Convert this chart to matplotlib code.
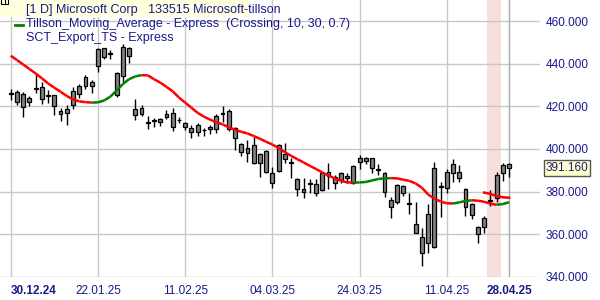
import matplotlib
matplotlib.use("Agg")
import matplotlib.pyplot as plt
from matplotlib.collections import LineCollection
import numpy as np

plt.rcParams['font.family'] = ['Liberation Sans', 'DejaVu Sans']

# candles, one per trading day from 30.12.24 (index 0) to 28.04.25 (index 80)
highs = [428, 427.5, 426.6, 424.9, 435.6, 431.6, 427.7, 425.4, 419.1, 420.7,
         429.3, 430.5, 434.6, 432.4, 447.3, 447.3, 446.5, 436.3, 449.3, 448,
         423.3, 420.7, 415.5, 414.4, 414.4, 418.3, 419.1, 414.8, 412.8, 411.3,
         412, 409.7, 411.3, 416.4, 420.2, 418.6, 410.2, 402.9, 404.2, 405.8,
         398.3, 399.5, 391.7, 402.3, 402.9, 395.6, 386.2, 386.2, 385.8, 385.8,
         389.3, 393.6, 387.8, 389.3, 388.9, 392.5, 397.2, 396.4, 395.6, 392.9,
         389.3, 377.3, 383.5, 383.1, 379.2, 375.2, 362.7, 374.1, 393.7, 384.6,
         390.5, 395.1, 392.5, 381.8, 374.5, 363.8, 368.5, 380.7, 389, 393.3,
         393.6]
lows = [423, 420.6, 415.2, 420.2, 426.2, 421.1, 421.5, 416, 413.2, 411.3,
        418.6, 424, 428, 426.2, 436.3, 442.1, 442.1, 424.3, 431.6, 440.5,
        413.8, 415.5, 409.2, 410.2, 410.8, 414, 408.6, 412, 408.9, 405,
        406, 406.1, 407, 407.7, 412.8, 408.6, 399.5, 396.7, 394, 392.9,
        387, 388.9, 381.5, 389.3, 393.3, 386.2, 377.9, 377.1, 379.5, 377.9,
        380.3, 381, 381, 384, 383.9, 383.4, 390.5, 392.9, 388.9, 387.8,
        377.3, 367.7, 374.1, 378, 369.4, 360.7, 345, 351, 353.6, 368.2,
        379.2, 384.6, 384.6, 368.5, 367, 356, 360.4, 373.2, 375.2, 385.1,
        387]
opens = [425.8, 426.9, 425.8, 422.2, 428.2, 423.3, 424.8, 425.4, 418, 416.8,
         420.7, 425.7, 429.7, 431.3, 439, 443.1, 444.8, 435.5, 434.2, 447.4,
         418.7, 416.4, 412.6, 413.1, 414, 415.2, 416.8, 413.4, 412.1, 409.7,
         408.1, 409.1, 409.2, 409.2, 416.6, 417.8, 409.7, 402.2, 398.3, 401.9,
         393.6, 399, 388.9, 389.8, 397.6, 393.8, 385.8, 381.1, 383.7, 383.5,
         380.7, 387.4, 387, 385.4, 387.3, 383.9, 394, 395.6, 395.6, 390.7,
         388.6, 376, 375.2, 382.6, 374.7, 364.6, 358.5, 355.7, 354.1, 382.5,
         381.5, 388.6, 389, 381.1, 374.1, 363.2, 363.5, 375.5, 376.8, 388.6,
         392.8]
closes = [426.5, 422.2, 419.6, 423.8, 428.6, 429.3, 425.4, 420.2, 416.4, 418.8,
          427.2, 429.6, 433.7, 429.6, 447, 447.3, 445.2, 425.2, 448, 443.5,
          415.8, 419.1, 412.2, 413.5, 412.8, 416.4, 410.5, 413.8, 410.5, 408.1,
          411.3, 408.7, 410.2, 415.5, 417, 409.2, 405, 398.7, 400.6, 393.6,
          397.6, 389.3, 383.9, 401.9, 395.2, 393.4, 381.1, 379.9, 384.1, 379.5,
          388.9, 389, 384.2, 388.6, 386.2, 392, 395.6, 394.5, 390.9, 390.3,
          379.6, 372.9, 383.1, 379.2, 374.3, 360.7, 351.3, 369.4, 390.9, 382.1,
          389, 392.8, 386.5, 372.6, 369, 359.9, 367.4, 375.9, 387.8, 392.5,
          391.16]

# Tillson moving average, index 0..80
tillson = [443.8, 441.8, 439.7, 437.6, 435.5, 433.2, 430.8, 428.8, 426.9, 424.9,
           423.3, 422.4, 422.0, 421.8, 421.9, 422.8, 424.6, 427.5, 430.5, 432.8,
           434.1, 434.7, 434.6, 432.8, 431.2, 429.2, 427.1, 424.2, 421.8, 419.4,
           417.0, 415.2, 413.8, 412.6, 411.6, 410.2, 409.0, 408.1, 407.3, 406.1,
           404.8, 403.4, 402.1, 400.4, 398.5, 396.8, 395.2, 393.7, 392.1, 390.6,
           389.0, 387.5, 386.2, 385.1, 384.3, 384.2, 384.3, 384.5, 385.2, 385.9,
           386.2, 386.3, 386.2, 385.6, 385.0, 383.8, 381.8, 378.6, 376.7, 375.3,
           374.5, 374.4, 374.9, 375.6, 375.9, 375.7, 375.2, 374.3, 373.8, 374.1,
           375.0]
# second (short) line at the end, index 76..80
export_idx = [76, 77, 78, 79, 80]
export_vals = [379.5, 378.9, 377.8, 377.3, 377.1]

date_idx = [0, 14, 28, 42, 56, 70, 80]
date_labels = ['30.12.24', '22.01.25', '11.02.25', '04.03.25', '24.03.25', '11.04.25', '28.04.25']
price_ticks = [340, 360, 380, 400, 420, 440, 460]
last_price = 391.16
shade = (76.45, 78.65)

navy = '#1a1a8c'
fig = plt.figure(figsize=(6, 3), dpi=100)
ax = fig.add_axes([0, 0.0777, 0.9, 0.9223])
ax.set_xlim(-1.72, 84.96)
ax.set_ylim(340, 470)

ax.axvspan(shade[0], shade[1], color='#f6dfdf', zorder=0, lw=0)
for y in price_ticks:
    ax.axhline(y, color='#c8c8c8', lw=1, zorder=0.5)
for i in date_idx:
    ax.axvline(i, color='#a8a8a8' if i == date_idx[-1] else '#c8c8c8', lw=1, zorder=0.5)

n = len(highs)
x = np.arange(n)
o = np.array(opens)
c = np.array(closes)
ax.vlines(x, lows, highs, color='black', lw=1, zorder=2)
bot = np.minimum(o, c)
hgt = np.maximum(np.abs(c - o), 0.35)
ax.bar(x, hgt, bottom=bot, width=0.62, color='#808080', edgecolor='black', lw=0.9, zorder=3)

# Tillson line: red falling, green rising
t = np.array(tillson)
pts = np.column_stack([np.arange(len(t)), t])
segs = np.stack([pts[:-1], pts[1:]], axis=1)
cols = ['#008000' if t[k + 1] > t[k] else '#ff0000' for k in range(len(t) - 1)]
ax.add_collection(LineCollection(segs, colors=cols, linewidths=1.8, zorder=4, capstyle='butt'))
ax.plot(export_idx, export_vals, color='#ff0000', lw=1.8, zorder=4)

for s in ax.spines.values():
    s.set_visible(False)
ax.yaxis.tick_right()
ax.set_yticks(price_ticks)
ax.set_yticklabels([f'{v:.3f}' for v in price_ticks])
ax.set_xticks(date_idx)
ax.set_xticklabels(date_labels)
ax.tick_params(length=0, labelsize=8.5, labelcolor=navy)
ax.tick_params(axis='y', pad=4)
ax.tick_params(axis='x', pad=6)
xl = ax.get_xticklabels()
xl[0].set_ha('left')
xl[0].set_x(-0.4)
xl[0].set_fontweight('bold')
xl[-1].set_fontweight('bold')

# last price box
ax.text(1.0 + 5.5 / 540, last_price, f'{last_price:.3f}', transform=ax.get_yaxis_transform(),
        ha='left', va='center', fontsize=8.5, color=navy,
        bbox=dict(boxstyle='square,pad=0.15', fc='#ffffcc', ec='#555555', lw=1),
        clip_on=False)

# header / legend
fig.patches.append(plt.Rectangle((0, 1 - 17 / 300), 250 / 600, 17 / 300,
                                 transform=fig.transFigure, fc='#ffffe0', ec='none', zorder=5))
fig.text(26 / 600, 1 - 10.5 / 300, '[1 D] Microsoft Corp   133515 Microsoft-tillson',
         fontsize=9, color=navy, va='center', zorder=6)
fig.lines.append(plt.Line2D([15 / 600, 23 / 600], [1 - 24.5 / 300] * 2, transform=fig.transFigure,
                            color='#008000', lw=2, zorder=6))
fig.text(26 / 600, 1 - 24.5 / 300, 'Tillson_Moving_Average - Express  (Crossing, 10, 30, 0.7)',
         fontsize=9, color=navy, va='center', zorder=6)
fig.text(26 / 600, 1 - 38.5 / 300, 'SCT_Export_TS - Express',
         fontsize=9, color=navy, va='center', zorder=6)
# small window icon in the corner
fig.patches.append(plt.Rectangle((1 / 600, 1 - 4 / 300), 7 / 600, 5 / 300,
                                 transform=fig.transFigure, fc='none', ec='black', lw=0.8, zorder=6))
fig.lines.append(plt.Line2D([4.5 / 600, 4.5 / 600], [1 - 4 / 300, 1], transform=fig.transFigure,
                            color='black', lw=0.8, zorder=6))

fig.savefig('out.png', dpi=100)
